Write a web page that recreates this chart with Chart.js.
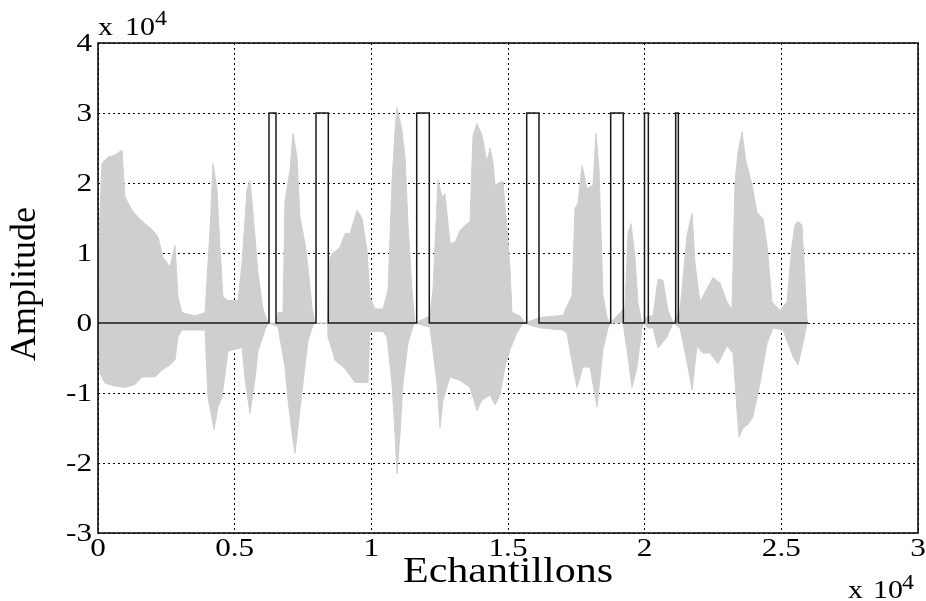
<!DOCTYPE html>
<html>
<head>
<meta charset="utf-8">
<script src="https://cdn.jsdelivr.net/npm/chart.js@4.4.1/dist/chart.umd.min.js"></script>
<style>
  body { margin: 0; background: #fff; }
  #wrap { width: 926px; height: 601px; }
</style>
</head>
<body>
<div id="wrap"><canvas id="myChart" width="926" height="601"></canvas></div>
<script>
// tick labels (axis values are in units of 10^4)
const xTicks = [0, 0.5, 1, 1.5, 2, 2.5, 3];
const yTicks = [-3, -2, -1, 0, 1, 2, 3, 4];

// speech signal, upper envelope (sample index / amplitude)
const upperX = [0, 30, 146, 366, 622, 878, 988, 1244, 1463, 1720, 2012, 2195, 2378, 2634, 2817, 2927, 3073, 3549, 3915, 4098, 4207, 4354, 4463, 4573, 4756, 5122, 5268, 5451, 5561, 5671, 5854, 6037, 6220,
  6512, 6585, 6768, 6841, 7024, 7134, 7280, 7390, 7573, 7683, 7829, 7939,
  8400, 8415, 8488, 8598, 8854, 9037, 9220, 9476, 9659, 9841, 9951, 10134, 10427, 10610, 10756, 10866, 10939, 11122, 11232, 11341, 11488, 11598,
  12146, 12256, 12439, 12585, 12695, 12878, 13061, 13244, 13500, 13610, 13720, 13866, 14049, 14232, 14341, 14451, 14524, 14707, 14817, 14963, 15073, 15146, 15439, 15622,
  16171, 17012, 17085, 17341, 17451, 17561, 17707, 17890, 18110, 18220, 18329, 18476, 18622, 18732,
  19280, 19390, 19500, 19646, 19756, 19902,
  20122, 20305, 20488, 20671, 20854, 21037,
  21293, 21549, 21732, 21841, 22024, 22280, 22500, 22756, 23012, 23195, 23305, 23415, 23561, 23707, 23780, 23927, 24110, 24329, 24476, 24659, 24951, 25207, 25390, 25500, 25610, 25756, 25866, 25939, 25976];
const upperY = [0, 11800, 22800, 23700, 24000, 24700, 18000, 16100, 15100, 14200, 13200, 12300, 9400, 8000, 11100, 3700, 1500, 1000, 1500, 13200, 22800, 19000, 10800, 3700, 3200, 3200, 8500, 19000, 20400, 15700, 7100, 2000, 0,
  0, 1500, 1500, 17500, 21800, 27100, 23700, 15100, 11400, 8000, 2200, 0,
  0, 5000, 9400, 10000, 10800, 12800, 12800, 16100, 15000, 10400, 3700, 2000, 2000, 4700, 20000, 27500, 30800, 27500, 23700, 14200, 4700, 0,
  1000, 4700, 20400, 18000, 18500, 11400, 11500, 13200, 14200, 14400, 26800, 28500, 26800, 23000, 25000, 23000, 19700, 20100, 20200, 13500, 7800, 1500, 1000, 0,
  800, 1100, 1800, 3900, 16400, 17100, 22500, 19200, 19700, 27100, 22100, 3900, 800, 0,
  2200, 12800, 14200, 9400, 2800, 0,
  1000, 1000, 6300, 6100, 1800, 0,
  1800, 12500, 15700, 8500, 3000, 4900, 6500, 5700, 3000, 2000, 20100, 24400, 27300, 23000, 22000, 19700, 15800, 14900, 11100, 3000, 1800, 3000, 11100, 14000, 14500, 14000, 6100, 500, 0];

// speech signal, lower envelope
const lowerX = [0, 73, 256, 622, 988, 1354, 1610, 2085, 2341, 2634, 2817, 2927, 3073, 3915, 4024, 4244, 4390, 4537, 4756, 5268, 5378, 5561, 5744, 5854, 6110, 6220,
  6585, 6841, 6951, 7098, 7207, 7317, 7500, 7683, 7866, 7939,
  8400, 8415, 8561, 8671, 9037, 9402, 9878, 9951, 10427, 10573, 10756, 10866, 10939, 11049, 11159, 11341, 11524, 11598,
  12146, 12402, 12512, 12622, 12878, 13244, 13610, 13866, 14049, 14341, 14524, 14707, 14890, 15073, 15329, 15549,
  16171, 17012, 17159, 17378, 17524, 17744, 18000, 18256, 18476, 18659, 18732,
  19207, 19354, 19537, 19720, 19902, 19940,
  20122, 20305, 20488, 20817, 21037,
  21293, 21585, 21732, 21915, 22134, 22390, 22683, 23012, 23232, 23378, 23451, 23598, 23780, 23963, 24219, 24476, 24695, 25061, 25427, 25610, 25793, 25939];
const lowerY = [-2000, -7200, -8600, -9000, -9200, -8800, -7700, -7700, -6700, -6000, -5300, -2000, -1000, -1000, -10600, -15200, -12000, -10600, -4000, -3500, -8000, -12900, -8000, -4000, -1000, 0,
  -500, -6300, -10900, -15800, -18600, -14900, -8600, -2500, -300, 0,
  0, -2000, -3800, -5300, -6500, -8500, -8500, -1200, -1200, -2000, -8600, -15800, -21500, -15800, -8600, -2900, -500, 0,
  -600, -8600, -14900, -11000, -7700, -8200, -9200, -12500, -11000, -10300, -11700, -10300, -6300, -3800, -1400, 0,
  -700, -1000, -1500, -6300, -9200, -6300, -6300, -12000, -3800, -700, 0,
  0, -3800, -9200, -6300, -700, 0,
  -700, -700, -3600, -2000, 0,
  -700, -6300, -9600, -3300, -4300, -4300, -5800, -3300, -4300, -12500, -16300, -15000, -14500, -13400, -8600, -2900, -700, -1000, -4800, -6000, -2900, 0];

// detection pulses (start / end sample)
const pulseOn  = [6256, 7976, 11660, 15684, 18757, 19994, 21135];
const pulseOff = [6512, 8426, 12121, 16134, 19219, 20134, 21232];
const pulseLevel = 30000;
const signalEnd = 25976;

const serif = '"Liberation Serif", "Times New Roman", serif';
const stretch = 1.2; // the reference text is a bit wider than Times

const pulse = [{ x: 0, y: 0 }];
pulseOn.forEach((on, i) => {
  pulse.push({ x: on, y: 0 }, { x: on, y: pulseLevel },
             { x: pulseOff[i], y: pulseLevel }, { x: pulseOff[i], y: 0 });
});
pulse.push({ x: signalEnd, y: 0 });

const upper = upperX.map((x, i) => ({ x: x, y: upperY[i] }));
const lower = lowerX.map((x, i) => ({ x: x, y: lowerY[i] }));

const gray = '#cfcfcf';

function wideText(ctx, text, x, y, size, align, baseline) {
  ctx.save();
  ctx.translate(x, y);
  ctx.scale(stretch, 1);
  ctx.font = size + 'px ' + serif;
  ctx.textAlign = align;
  ctx.textBaseline = baseline;
  ctx.fillText(text, 0, 0);
  ctx.restore();
}

const framePlugin = {
  id: 'frame',
  afterDraw(chart) {
    const { ctx, chartArea: a, scales } = chart;
    ctx.save();
    ctx.strokeStyle = '#000';
    ctx.lineWidth = 1.5;
    ctx.strokeRect(a.left, a.top, a.right - a.left, a.bottom - a.top);
    ctx.fillStyle = '#000';

    // tick labels
    xTicks.forEach(v => {
      wideText(ctx, String(v), scales.x.getPixelForValue(v * 10000), a.bottom + 3, 26, 'center', 'top');
    });
    yTicks.forEach(v => {
      wideText(ctx, String(v), a.left - 6, scales.y.getPixelForValue(v * 10000) + 1, 26, 'right', 'middle');
    });

    // exponent labels
    wideText(ctx, 'x', 98, 35, 25, 'left', 'alphabetic');
    wideText(ctx, '10', 125, 35, 25, 'left', 'alphabetic');
    wideText(ctx, '4', 155, 25, 20, 'left', 'alphabetic');
    wideText(ctx, 'x', 848, 598, 25, 'left', 'alphabetic');
    wideText(ctx, '10', 873, 598, 25, 'left', 'alphabetic');
    wideText(ctx, '4', 902, 589, 20, 'left', 'alphabetic');

    // axis titles
    wideText(ctx, 'Echantillons', (a.left + a.right) / 2, 582, 35, 'center', 'alphabetic');
    ctx.translate(35, 284);
    ctx.rotate(-Math.PI / 2);
    ctx.font = '36px ' + serif;
    ctx.textAlign = 'center';
    ctx.textBaseline = 'alphabetic';
    ctx.fillText('Amplitude', 0, 0);
    ctx.restore();
  }
};

const ctx = document.getElementById('myChart').getContext('2d');
const myChart = new Chart(ctx, {
  type: 'line',
  data: {
    datasets: [
      {
        data: pulse,
        borderColor: '#1a1a1a',
        borderWidth: 1.5,
        pointRadius: 0,
        fill: false,
        order: 0
      },
      {
        data: upper,
        borderColor: gray,
        backgroundColor: gray,
        borderWidth: 1,
        pointRadius: 0,
        fill: 'origin',
        order: 1
      },
      {
        data: lower,
        borderColor: gray,
        backgroundColor: gray,
        borderWidth: 1,
        pointRadius: 0,
        fill: 'origin',
        order: 2
      }
    ]
  },
  options: {
    responsive: false,
    animation: false,
    layout: { padding: { top: 43, right: 8, left: 0, bottom: 0 } },
    plugins: {
      legend: { display: false },
      tooltip: { enabled: false }
    },
    scales: {
      x: {
        type: 'linear',
        min: 0,
        max: 30000,
        afterBuildTicks: s => { s.ticks = xTicks.map(v => ({ value: v * 10000 })); },
        afterFit: s => { s.height = 68; },
        ticks: { display: false },
        grid: { color: '#000', lineWidth: 1, drawTicks: false },
        border: { display: false, dash: [2, 3] }
      },
      y: {
        min: -30000,
        max: 40000,
        afterBuildTicks: s => { s.ticks = yTicks.map(v => ({ value: v * 10000 })); },
        afterFit: s => { s.width = 98; },
        ticks: { display: false },
        grid: { color: '#000', lineWidth: 1, drawTicks: false },
        border: { display: false, dash: [2, 3] }
      }
    }
  },
  plugins: [framePlugin]
});
</script>
</body>
</html>
